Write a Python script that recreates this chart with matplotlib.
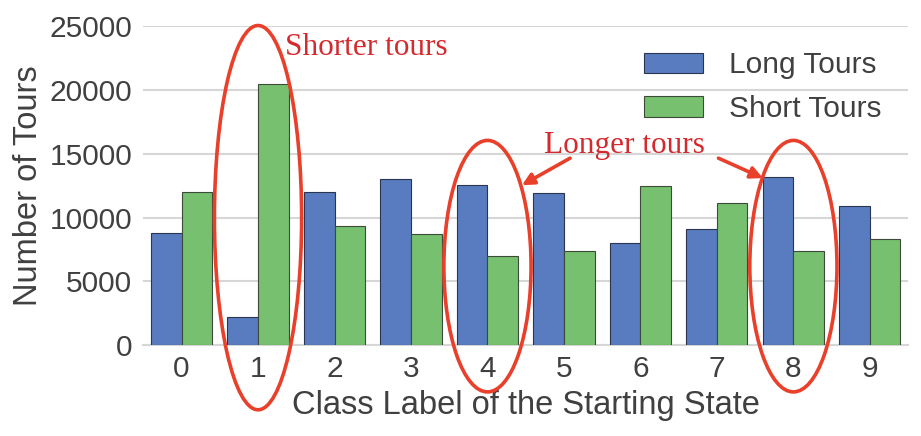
"""
Long vs short tours per starting-state class label.
"""
import matplotlib
matplotlib.use("Agg")
import matplotlib.pyplot as plt
from matplotlib.patches import Ellipse
import numpy as np

classes     = ["0", "1", "2", "3", "4", "5", "6", "7", "8", "9"]
long_tours  = [8810, 2240, 12020, 12990, 12540, 11970, 7980, 9080, 13170, 10880]
short_tours = [12020, 20450, 9360, 8690, 6990, 7350, 12490, 11110, 7380, 8320]
yticks      = [0, 5000, 10000, 15000, 20000, 25000]

BLUE  = "#587cbf"
GREEN = "#76c06f"
TEXT  = "#404040"
RED_T = "#d42a2e"   # annotation text
RED_L = "#e8402a"   # ellipses / arrows

plt.rcParams["font.family"] = ["Liberation Sans", "DejaVu Sans"]

fig = plt.figure(figsize=(9.21, 4.36), dpi=100)
ax = fig.add_axes([0.1556, 0.208, 0.8304, 0.732])

x = np.arange(len(classes))
w = 0.4
ax.bar(x - w / 2, long_tours, w, color=BLUE, edgecolor="#2b3550",
       linewidth=0.8, label="Long Tours", zorder=3)
ax.bar(x + w / 2, short_tours, w, color=GREEN, edgecolor="#3d4a3a",
       linewidth=0.8, label="Short Tours", zorder=3)

ax.set_xlim(-0.5, 9.5)
ax.set_ylim(0, 25000)
ax.set_yticks(yticks)
ax.set_xticks(x)
ax.set_xticklabels(classes)
ax.yaxis.grid(True, color="#d6d6d6", linewidth=1.5, zorder=0)
ax.set_axisbelow(True)
for s in ("top", "right", "left"):
    ax.spines[s].set_visible(False)
ax.spines["bottom"].set_color("#d6d6d6")
ax.spines["bottom"].set_linewidth(1.5)
ax.tick_params(length=0, labelsize=21.5, labelcolor=TEXT, pad=7)
ax.tick_params(axis="y", pad=8)

ax.set_ylabel("Number of Tours", fontsize=23.5, color=TEXT, labelpad=4)
ax.set_xlabel("Class Label of the Starting State", fontsize=23.5, color=TEXT,
              labelpad=5)

ax.legend(loc="upper right", bbox_to_anchor=(1.0, 1.005), frameon=False,
          fontsize=21.5, labelcolor=TEXT, handlelength=2.0, handleheight=0.7,
          handletextpad=0.85, labelspacing=0.52)

# annotations
for cx, cy, hh in [(1, 10000, 30100), (4, 6200, 19700), (8, 6200, 19700)]:
    ax.add_patch(Ellipse((cx, cy), 1.14, hh, fill=False, edgecolor=RED_L,
                         linewidth=2.6, clip_on=False, zorder=5))

ax.text(2.415, 23300, "Shorter tours", color=RED_T, fontsize=22.5,
        family=["Liberation Serif", "DejaVu Serif"], ha="center", va="center")
ax.text(5.79, 15650, "Longer tours", color=RED_T, fontsize=22.5,
        family=["Liberation Serif", "DejaVu Serif"], ha="center", va="center")

arrow = dict(arrowstyle="-|>,head_length=0.7,head_width=0.35", color=RED_L,
             linewidth=2.6, shrinkA=0, shrinkB=0)
ax.annotate("", xy=(4.45, 12540), xytext=(5.08, 14660), arrowprops=arrow,
            annotation_clip=False)
ax.annotate("", xy=(7.60, 13100), xytext=(7.02, 14660), arrowprops=arrow,
            annotation_clip=False)

fig.savefig("out.png", dpi=100)
